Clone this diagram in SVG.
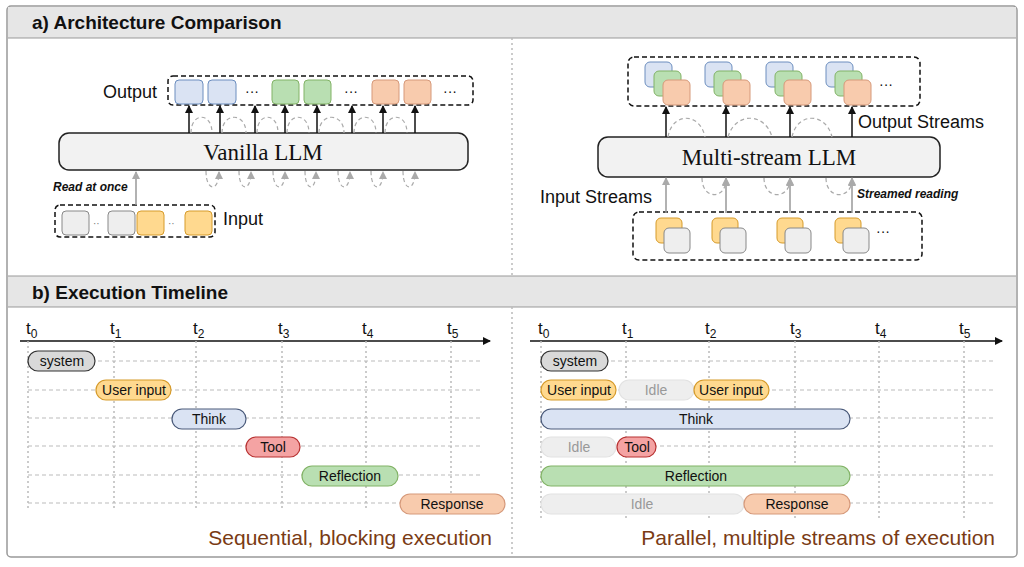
<svg xmlns="http://www.w3.org/2000/svg" width="1024" height="567" viewBox="0 0 1024 567">
<style>
.hd{font:bold 19px "Liberation Sans",Arial,sans-serif;fill:#111}
.lb{font:18px "Liberation Sans",Arial,sans-serif;fill:#111}
.it{font:italic bold 12px "Liberation Sans",Arial,sans-serif;fill:#111}
.llm{font:23px "Liberation Serif",serif;fill:#111;text-anchor:middle}
.bt{font:14px "Liberation Sans",Arial,sans-serif;fill:#111;text-anchor:middle}
.idt{font:14px "Liberation Sans",Arial,sans-serif;fill:#999;text-anchor:middle}
.tl{font:17px "Liberation Sans",Arial,sans-serif;fill:#111}
.sub{font-size:12px}
.cap{font:21px "Liberation Sans",Arial,sans-serif;fill:#7a3b14}
.db{fill:none;stroke:#111;stroke-width:1.5;stroke-dasharray:5 3}
.bl{fill:#dae3f3;stroke:#6c8ebf}
.gr{fill:#b9dfb2;stroke:#82b366}
.or{fill:#f8cbad;stroke:#d6997a}
.ye{fill:#ffd98f;stroke:#d69b2b}
.gy{fill:#eeeeee;stroke:#888}
.arr{stroke:#111;stroke-width:1.5;marker-end:url(#ab)}
.garr{stroke:#999;stroke-width:1.5;marker-end:url(#ag)}
.arc{fill:none;stroke:#aaa;stroke-width:1.2;stroke-dasharray:4 3}
.arcm{fill:none;stroke:#aaa;stroke-width:1.2;stroke-dasharray:4 3;marker-end:url(#ag)}
.grid{stroke:#bbb;stroke-width:1.2;stroke-dasharray:4 3}
.vg{stroke:#bbb;stroke-width:1.5;stroke-dasharray:2 3}
</style>
<defs>
<marker id="ab" markerWidth="8" markerHeight="8" refX="7" refY="4" orient="auto" markerUnits="userSpaceOnUse"><path d="M0,0 L8,4 L0,8 z" fill="#111"/></marker>
<marker id="ag" markerWidth="8" markerHeight="8" refX="7" refY="4" orient="auto" markerUnits="userSpaceOnUse"><path d="M0,0 L8,4 L0,8 z" fill="#aaa"/></marker>
</defs>
<rect x="0" y="0" width="1024" height="567" fill="#fff"/>
<rect x="7" y="6" width="1010" height="551" rx="4" fill="#fff" stroke="#999" stroke-width="1.5"/>
<rect x="8" y="7" width="1008" height="31" fill="#e6e6e6"/>
<line x1="8" y1="38" x2="1016" y2="38" stroke="#999"/>
<text class="hd" x="32" y="29">a) Architecture Comparison</text>
<rect x="8" y="276" width="1008" height="31" fill="#e6e6e6"/>
<line x1="8" y1="276" x2="1016" y2="276" stroke="#999"/>
<line x1="8" y1="307" x2="1016" y2="307" stroke="#999"/>
<text class="hd" x="32" y="299">b) Execution Timeline</text>
<line x1="512" y1="38" x2="512" y2="276" class="vg"/>
<line x1="512" y1="307" x2="512" y2="556" class="vg"/>

<g id="vanilla-output">
<rect class="db" x="168" y="76" width="305" height="29" rx="5"/>
<text class="lb" x="103" y="98">Output</text>
<rect class="bl" x="175" y="80" width="28" height="24" rx="4"/>
<rect class="bl" x="208" y="80" width="28" height="24" rx="4"/>
<rect class="gr" x="272" y="80" width="27" height="24" rx="4"/>
<rect class="gr" x="304" y="80" width="27" height="24" rx="4"/>
<rect class="or" x="372" y="80" width="27" height="24" rx="4"/>
<rect class="or" x="404" y="80" width="27" height="24" rx="4"/>
<text class="lb" x="245" y="96" fill="#777" style="font-size:14px">···</text>
<text class="lb" x="344" y="96" fill="#777" style="font-size:14px">···</text>
<text class="lb" x="443" y="96" fill="#777" style="font-size:14px">···</text>
</g>
<g id="vanilla-llm">
<rect x="59" y="133" width="409" height="37" rx="10" fill="#f2f2f2" stroke="#222" stroke-width="1.5"/>
<text class="llm" x="263" y="160">Vanilla LLM</text>
</g>
<g id="vanilla-input">
<rect class="db" x="55" y="205" width="160" height="32" rx="5"/>
<rect class="gy" x="62" y="211" width="27" height="24" rx="4"/>
<rect class="gy" x="108" y="211" width="27" height="24" rx="4"/>
<rect class="ye" x="137" y="211" width="27" height="24" rx="4"/>
<rect class="ye" x="185" y="211" width="27" height="24" rx="4"/>
<text x="93" y="227" style="font:10px 'Liberation Sans',sans-serif" fill="#777">··</text>
<text x="168" y="227" style="font:10px 'Liberation Sans',sans-serif" fill="#777">··</text>
<text class="lb" x="223" y="225">Input</text>
<text class="it" x="53" y="191">Read at once</text>
</g>

<g id="ms-output">
<rect class="db" x="628" y="57" width="292" height="49" rx="6"/>
<g><rect class="bl" x="645" y="62" width="27" height="25" rx="5"/><rect class="gr" x="654" y="71" width="27" height="25" rx="5"/><rect class="or" x="663" y="80" width="27" height="25" rx="5"/></g>
<g><rect class="bl" x="705" y="62" width="27" height="25" rx="5"/><rect class="gr" x="714" y="71" width="27" height="25" rx="5"/><rect class="or" x="723" y="80" width="27" height="25" rx="5"/></g>
<g><rect class="bl" x="766" y="62" width="27" height="25" rx="5"/><rect class="gr" x="775" y="71" width="27" height="25" rx="5"/><rect class="or" x="784" y="80" width="27" height="25" rx="5"/></g>
<g><rect class="bl" x="826" y="62" width="27" height="25" rx="5"/><rect class="gr" x="835" y="71" width="27" height="25" rx="5"/><rect class="or" x="844" y="80" width="27" height="25" rx="5"/></g>
<text class="lb" x="879" y="89" fill="#777" style="font-size:14px">···</text>
<text class="lb" x="858" y="128">Output Streams</text>
</g>
<g id="ms-llm">
<rect x="598" y="137" width="342" height="40" rx="10" fill="#f2f2f2" stroke="#222" stroke-width="1.5"/>
<text class="llm" x="769" y="165">Multi-stream LLM</text>
</g>
<g id="ms-input">
<rect class="db" x="633" y="212" width="289" height="48" rx="6"/>
<g><rect class="ye" x="656" y="218" width="26" height="25" rx="5"/><rect class="gy" x="664" y="228" width="26" height="25" rx="5"/></g>
<g><rect class="ye" x="712" y="218" width="26" height="25" rx="5"/><rect class="gy" x="720" y="228" width="26" height="25" rx="5"/></g>
<g><rect class="ye" x="777" y="218" width="26" height="25" rx="5"/><rect class="gy" x="785" y="228" width="26" height="25" rx="5"/></g>
<g><rect class="ye" x="835" y="218" width="26" height="25" rx="5"/><rect class="gy" x="843" y="228" width="26" height="25" rx="5"/></g>
<text class="lb" x="876" y="236" fill="#777" style="font-size:14px">···</text>
<text class="lb" x="540" y="203">Input Streams</text>
<text class="it" x="857" y="198">Streamed reading</text>
</g>

<g id="connectors">
<line class="arr" x1="189" y1="133" x2="189" y2="106"/>
<line class="arr" x1="220" y1="133" x2="220" y2="106"/>
<line class="arr" x1="255" y1="133" x2="255" y2="106"/>
<line class="arr" x1="285" y1="133" x2="285" y2="106"/>
<line class="arr" x1="317" y1="133" x2="317" y2="106"/>
<line class="arr" x1="352" y1="133" x2="352" y2="106"/>
<line class="arr" x1="383" y1="133" x2="383" y2="106"/>
<line class="arr" x1="415" y1="133" x2="415" y2="106"/>
<path class="arc" d="M191,133 C191,112 212,112 212,133"/>
<path class="arc" d="M222,133 C222,112 246,112 246,133"/>
<path class="arc" d="M257,133 C257,112 278,112 278,133"/>
<path class="arc" d="M287,133 C287,112 309,112 309,133"/>
<path class="arc" d="M319,133 C319,112 344,112 344,133"/>
<path class="arc" d="M354,133 C354,112 376,112 376,133"/>
<path class="arc" d="M385,133 C385,112 407,112 407,133"/>
<path class="arcm" d="M206,171 C206,192 219,192 219,172"/>
<path class="arcm" d="M239,171 C239,192 251,192 251,172"/>
<path class="arcm" d="M273,171 C273,192 285,192 285,172"/>
<path class="arcm" d="M305,171 C305,192 316,192 316,172"/>
<path class="arcm" d="M338,171 C338,192 350,192 350,172"/>
<path class="arcm" d="M371,171 C371,192 383,192 383,172"/>
<path class="arcm" d="M403,171 C403,192 415,192 415,172"/>
<line class="garr" x1="136" y1="205" x2="136" y2="172"/>

<line class="arr" x1="666" y1="137" x2="666" y2="107"/>
<line class="arr" x1="726" y1="137" x2="726" y2="107"/>
<line class="arr" x1="790" y1="137" x2="790" y2="107"/>
<line class="arr" x1="852" y1="137" x2="852" y2="107"/>
<path class="arc" d="M668,137 C672,112 700,112 705,137"/>
<path class="arc" d="M728,137 C735,112 765,112 772,137"/>
<path class="arc" d="M792,137 C797,112 826,112 832,137"/>
<line class="garr" x1="666" y1="213" x2="666" y2="178"/>
<line class="garr" x1="726" y1="213" x2="726" y2="178"/>
<line class="garr" x1="790" y1="213" x2="790" y2="178"/>
<line class="garr" x1="852" y1="213" x2="852" y2="178"/>
<path class="arcm" d="M702,178 C702,200 726,200 726,179"/>
<path class="arcm" d="M764,178 C764,200 790,200 790,179"/>
<path class="arcm" d="M826,178 C826,200 852,200 852,179"/>
</g>

<g id="timeline-seq">
<line x1="20" y1="341" x2="490" y2="341" stroke="#111" stroke-width="1.5" marker-end="url(#ab)"/>
<g class="vg"><line x1="28" y1="341" x2="28" y2="510"/><line x1="114" y1="341" x2="114" y2="510"/><line x1="196" y1="341" x2="196" y2="510"/><line x1="282" y1="341" x2="282" y2="510"/><line x1="366" y1="341" x2="366" y2="510"/><line x1="451" y1="341" x2="451" y2="510"/></g>
<g class="grid"><line x1="28" y1="361" x2="480" y2="361"/><line x1="28" y1="390" x2="480" y2="390"/><line x1="28" y1="418" x2="480" y2="418"/><line x1="28" y1="446" x2="480" y2="446"/><line x1="28" y1="475" x2="480" y2="475"/><line x1="28" y1="503" x2="480" y2="503"/></g>
<text class="tl" x="26" y="334">t<tspan class="sub" dy="4">0</tspan></text>
<text class="tl" x="110" y="334">t<tspan class="sub" dy="4">1</tspan></text>
<text class="tl" x="193" y="334">t<tspan class="sub" dy="4">2</tspan></text>
<text class="tl" x="278" y="334">t<tspan class="sub" dy="4">3</tspan></text>
<text class="tl" x="362" y="334">t<tspan class="sub" dy="4">4</tspan></text>
<text class="tl" x="447" y="334">t<tspan class="sub" dy="4">5</tspan></text>
<rect x="28" y="351" width="67" height="20" rx="10" fill="#d9d9d9" stroke="#333" stroke-width="1.2"/><text class="bt" x="62" y="366">system</text>
<rect x="96" y="380" width="75" height="20" rx="10" fill="#ffd98f" stroke="#d69b2b" stroke-width="1.2"/><text class="bt" x="134" y="395">User input</text>
<rect x="172" y="409" width="74" height="20" rx="10" fill="#dae3f3" stroke="#4a5a7a" stroke-width="1.2"/><text class="bt" x="209" y="424">Think</text>
<rect x="246" y="437" width="54" height="20" rx="10" fill="#f4a3a3" stroke="#b83232" stroke-width="1.2"/><text class="bt" x="273" y="452">Tool</text>
<rect x="302" y="466" width="96" height="20" rx="10" fill="#b9dfb2" stroke="#82b366" stroke-width="1.2"/><text class="bt" x="350" y="481">Reflection</text>
<rect x="400" y="494" width="105" height="20" rx="10" fill="#f8cbad" stroke="#d6997a" stroke-width="1.2"/><text class="bt" x="452" y="509">Response</text>
<text class="cap" x="492" y="545" text-anchor="end">Sequential, blocking execution</text>
</g>

<g id="timeline-par">
<line x1="530" y1="341" x2="1002" y2="341" stroke="#111" stroke-width="1.5" marker-end="url(#ab)"/>
<g class="vg"><line x1="541" y1="341" x2="541" y2="518"/><line x1="626" y1="341" x2="626" y2="518"/><line x1="709" y1="341" x2="709" y2="518"/><line x1="795" y1="341" x2="795" y2="518"/><line x1="879" y1="341" x2="879" y2="518"/><line x1="964" y1="341" x2="964" y2="518"/></g>
<g class="grid"><line x1="541" y1="361" x2="995" y2="361"/><line x1="541" y1="390" x2="995" y2="390"/><line x1="541" y1="418" x2="995" y2="418"/><line x1="541" y1="446" x2="995" y2="446"/><line x1="541" y1="475" x2="995" y2="475"/><line x1="541" y1="503" x2="995" y2="503"/></g>
<text class="tl" x="538" y="334">t<tspan class="sub" dy="4">0</tspan></text>
<text class="tl" x="622" y="334">t<tspan class="sub" dy="4">1</tspan></text>
<text class="tl" x="705" y="334">t<tspan class="sub" dy="4">2</tspan></text>
<text class="tl" x="790" y="334">t<tspan class="sub" dy="4">3</tspan></text>
<text class="tl" x="875" y="334">t<tspan class="sub" dy="4">4</tspan></text>
<text class="tl" x="959" y="334">t<tspan class="sub" dy="4">5</tspan></text>
<rect x="541" y="351" width="67" height="20" rx="10" fill="#d9d9d9" stroke="#333" stroke-width="1.2"/><text class="bt" x="575" y="366">system</text>
<rect x="541" y="380" width="75" height="20" rx="10" fill="#ffd98f" stroke="#d69b2b" stroke-width="1.2"/><text class="bt" x="579" y="395">User input</text>
<rect x="619" y="380" width="75" height="20" rx="10" fill="#eeeeee" stroke="#e2e2e2" stroke-width="1.2"/><text class="idt" x="656" y="395">Idle</text>
<rect x="694" y="380" width="75" height="20" rx="10" fill="#ffd98f" stroke="#d69b2b" stroke-width="1.2"/><text class="bt" x="731" y="395">User input</text>
<rect x="541" y="409" width="309" height="20" rx="10" fill="#dae3f3" stroke="#4a5a7a" stroke-width="1.2"/><text class="bt" x="696" y="424">Think</text>
<rect x="541" y="437" width="75" height="20" rx="10" fill="#eeeeee" stroke="#e2e2e2" stroke-width="1.2"/><text class="idt" x="579" y="452">Idle</text>
<rect x="617" y="437" width="39" height="20" rx="10" fill="#f4a3a3" stroke="#b83232" stroke-width="1.2"/><text class="bt" x="637" y="452">Tool</text>
<rect x="541" y="466" width="309" height="20" rx="10" fill="#b9dfb2" stroke="#82b366" stroke-width="1.2"/><text class="bt" x="696" y="481">Reflection</text>
<rect x="541" y="494" width="203" height="20" rx="10" fill="#eeeeee" stroke="#e2e2e2" stroke-width="1.2"/><text class="idt" x="642" y="509">Idle</text>
<rect x="744" y="494" width="106" height="20" rx="10" fill="#f8cbad" stroke="#d6997a" stroke-width="1.2"/><text class="bt" x="797" y="509">Response</text>
<text class="cap" x="995" y="545" text-anchor="end">Parallel, multiple streams of execution</text>
</g>
</svg>
